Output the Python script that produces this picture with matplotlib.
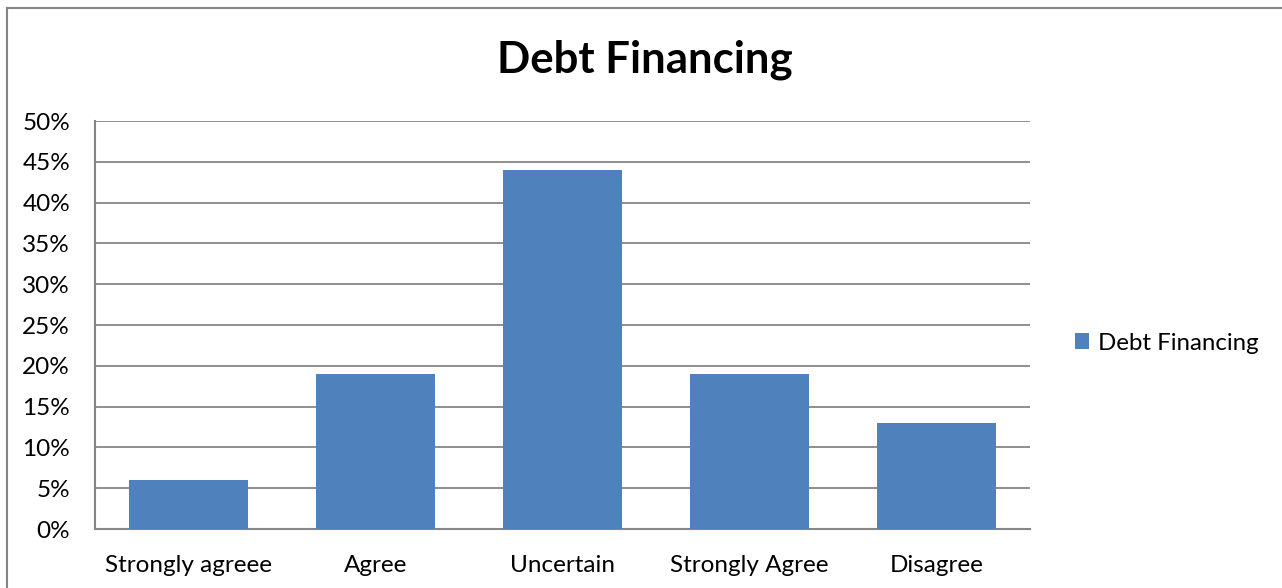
import matplotlib
matplotlib.use("Agg")
import matplotlib.pyplot as plt
from matplotlib.lines import Line2D
from matplotlib.patches import Patch

categories = ["Strongly agreee", "Agree", "Uncertain", "Strongly Agree", "Disagree"]
values = [6, 19, 44, 19, 13]
yticks = [0, 5, 10, 15, 20, 25, 30, 35, 40, 45, 50]
series_name = "Debt Financing"
bar_color = "#4F81BD"
grid_color = "#868686"

plt.rcParams["font.family"] = ["Lato", "DejaVu Sans"]

W, H = 1282, 588
fig = plt.figure(figsize=(W / 100, H / 100), dpi=100)
ax = fig.add_axes([95 / W, 1 - 529 / H, (1030 - 95) / W, (529 - 121) / H])

x = range(len(categories))
ax.bar(x, values, width=0.64, color=bar_color, zorder=3)
ax.set_xlim(-0.5, len(categories) - 0.5)
ax.set_ylim(0, 50)
ax.set_yticks(yticks)
ax.set_yticklabels([f"{t}%" for t in yticks], fontsize=17.5)
ax.set_xticks(list(x))
ax.set_xticklabels(categories, fontsize=17.5)
ax.tick_params(axis="both", length=0, colors="black")
ax.tick_params(axis="y", pad=18)
ax.tick_params(axis="x", pad=19)
ax.yaxis.grid(True, color=grid_color, linewidth=1.3, zorder=0)
for side in ("top", "right"):
    ax.spines[side].set_visible(False)
for side in ("left", "bottom"):
    ax.spines[side].set_color(grid_color)
    ax.spines[side].set_linewidth(1.5)

fig.text(645 / W, 1 - 60 / H, series_name, ha="center", va="center",
         fontsize=31.5, fontweight="bold")

handle = Patch(facecolor=bar_color, edgecolor="none")
fig.legend([handle], [series_name], loc="center left",
           bbox_to_anchor=(1075 / W, 1 - 343 / H), frameon=False,
           fontsize=17.3, handlelength=0.6, handleheight=0.6,
           handletextpad=0.35, borderpad=0, borderaxespad=0)

# chart frame (left and top edges)
fig.add_artist(Line2D([7 / W, 7 / W], [0, 1 - 8 / H], transform=fig.transFigure,
                      color=grid_color, linewidth=1.5))
fig.add_artist(Line2D([7 / W, 1], [1 - 8 / H, 1 - 8 / H], transform=fig.transFigure,
                      color=grid_color, linewidth=1.5))

fig.savefig("out.png", dpi=100)
